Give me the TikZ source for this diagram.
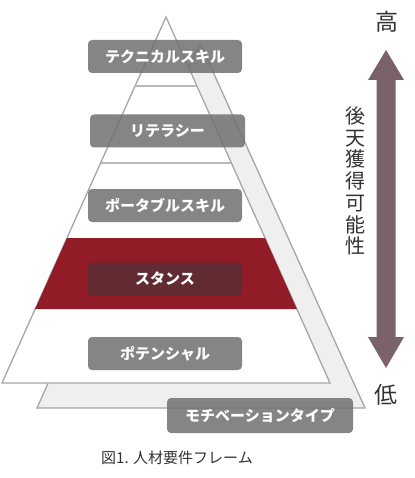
\documentclass[tikz,border=0pt]{standalone}
\usepackage{fontspec}
\setmainfont{Noto Sans CJK JP}
\usetikzlibrary{calc}
\definecolor{edgegray}{HTML}{A6A6A6}
\definecolor{backfill}{HTML}{EFEFEF}
\definecolor{labelgray}{HTML}{707070}
\definecolor{bandred}{HTML}{921B28}
\definecolor{stancebox}{HTML}{5C2D33}
\definecolor{arrowmauve}{HTML}{7B6268}
\definecolor{captext}{HTML}{333333}
\tikzset{
  lbl/.style={rounded corners=4pt, fill=labelgray, fill opacity=0.85, text opacity=1,
    text=white, font=\bfseries\fontsize{15}{15}\selectfont,
    minimum width=154pt, minimum height=33pt, inner sep=0pt},
  tri/.style={draw=edgegray, line width=1.3pt, line join=miter},
  divider/.style={draw=edgegray!80, line width=1.3pt},
  sidetext/.style={text=black!80, font=\fontsize{23}{23}\selectfont, inner sep=0pt}
}
\begin{document}
\begin{tikzpicture}[x=1pt,y=-1pt]
\useasboundingbox (0,0) rectangle (414,478);
% back triangle
\coordinate (bA) at (200,43);
\coordinate (bL) at (37,408);
\coordinate (bR) at (365,408);
\draw[tri, fill=backfill] (bA) -- (bR) -- (bL) -- cycle;
% front triangle
\coordinate (A) at (166,17);
\coordinate (BL) at (2,383);
\coordinate (BR) at (330,383);
\draw[tri, fill=white] (A) -- (BR) -- (BL) -- cycle;
% red band
\fill[bandred] ($(A)!0.604!(BL)$) -- ($(A)!0.604!(BR)$) -- ($(A)!0.798!(BR)$) -- ($(A)!0.798!(BL)$) -- cycle;
% dividers
\draw[divider] ($(A)!0.1885!(BL)$) -- ($(A)!0.1885!(BR)$);
\draw[divider] ($(A)!0.399!(BL)$) -- ($(A)!0.399!(BR)$);
% labels
\node[lbl] (tech) at (165,56.5) {テクニカルスキル};
\node[lbl, minimum width=155pt] (lit) at (167.5,131) {リテラシー};
\node[lbl] (port) at (165,205.5) {ポータブルスキル};
\node[lbl, fill=stancebox, fill opacity=0.9] (stance) at (165,279) {スタンス};
\node[lbl] (pot) at (165,353.5) {ポテンシャル};
\node[lbl, minimum width=186pt, minimum height=35pt] (moti) at (260,415.5) {モチベーションタイプ};
% caption
\node[text=captext, font=\fontsize{15}{15}\selectfont, inner sep=0pt] (cap) at (177,458) {図1. 人材要件フレーム};
% right side
\node[sidetext] (high) at (387,22) {高};
\node[sidetext] (low) at (386,395) {低};
\fill[arrowmauve] (386,50) -- (404,80) -- (395.5,80) -- (395.5,337) -- (404,337) -- (386,368)
  -- (368,337) -- (376.5,337) -- (376.5,80) -- (368,80) -- cycle;
\node[text=black!80, font=\fontsize{20}{21.7}\selectfont, align=center, inner sep=0pt] (acq) at (355,181)
  {後\\天\\獲\\得\\可\\能\\性};
\end{tikzpicture}
\end{document}
